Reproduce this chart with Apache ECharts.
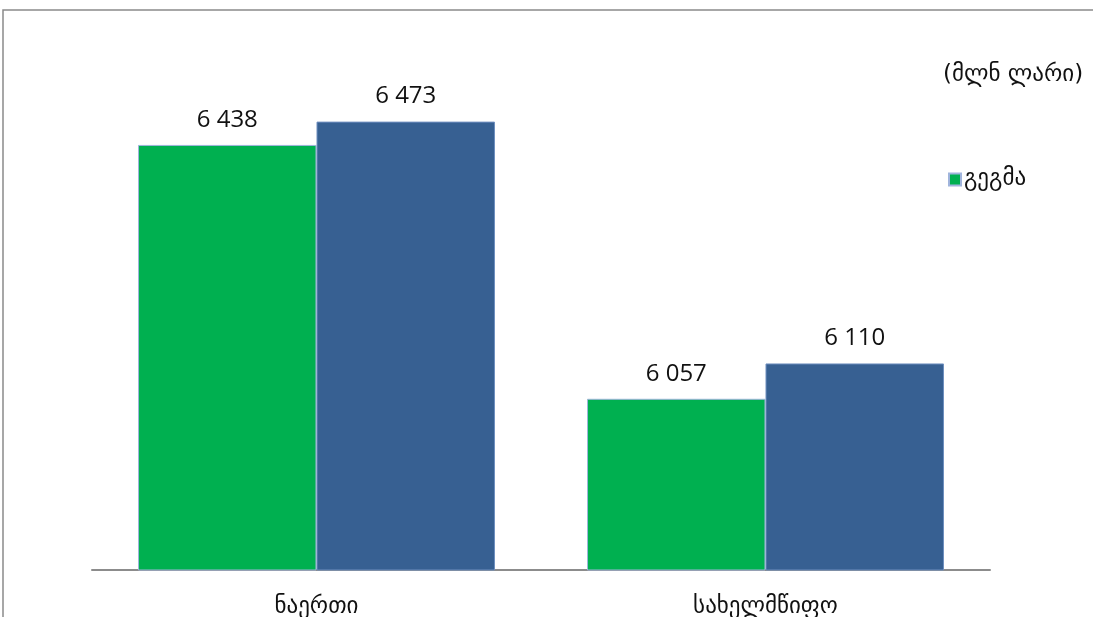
<!DOCTYPE html>
<html><head><meta charset="utf-8">
<script src="https://cdn.jsdelivr.net/npm/echarts@6/dist/echarts.min.js"></script>
<style>html,body{margin:0;padding:0;background:#fff}#c{width:1093px;height:617px}</style>
</head><body><div id="c"></div>
<script>
const categories = ['ნაერთი', 'სახელმწიფო'];
const planValues = [6438, 6057];
const actualValues = [6473, 6110];
const seriesNames = ['გეგმა', 'შესრულება'];
const unitLabel = '(მლნ ლარი)';

const fmt = v => String(v).replace(/\B(?=(\d{3})+(?!\d))/g, ' ');
const font = "'Open Sans', 'DejaVu Sans', sans-serif";

const chart = echarts.init(document.getElementById('c'));
chart.setOption({
  animation: false,
  backgroundColor: '#fff',
  graphic: [
    {type: 'rect', shape: {x: 3, y: 10, width: 1200, height: 700}, style: {fill: 'none', stroke: '#8a8a8a', lineWidth: 1.5}, silent: true},
    {type: 'text', left: 943, top: 64, style: {text: unitLabel, font: "23px 'DejaVu Sans', sans-serif", fill: '#111'}}
  ],
  legend: {
    data: [seriesNames[0]],
    left: 943, top: 163, orient: 'vertical',
    itemWidth: 12, itemHeight: 12, itemGap: 4,
    icon: 'rect',
    textStyle: {fontSize: 23, fontFamily: "'DejaVu Sans', sans-serif", color: '#111', padding: [0, 0, 0, -2]}
  },
  grid: {left: 92, right: 103, top: 37, bottom: 47, containLabel: false, outerBoundsMode: 'none'},
  xAxis: {
    type: 'category', data: categories,
    axisLine: {show: true, lineStyle: {color: '#8c8c8c', width: 2}},
    axisTick: {show: false},
    axisLabel: {fontSize: 23, margin: 26, color: '#111', fontFamily: "'DejaVu Sans', sans-serif"}
  },
  yAxis: {
    type: 'value', min: 5800, max: 6600, show: false,
    splitLine: {show: false}
  },
  series: [
    {
      name: seriesNames[0], type: 'bar', data: planValues,
      barGap: '0%', barCategoryGap: '20.5%',
      itemStyle: {color: '#00b050', borderColor: '#a0b4dc', borderWidth: 1},
      label: {show: true, position: 'top', distance: 13, formatter: p => fmt(p.value), fontSize: 24, color: '#111', fontFamily: font}
    },
    {
      name: seriesNames[1], type: 'bar', data: actualValues,
      itemStyle: {color: '#376092', borderColor: '#6f8fbf', borderWidth: 1},
      label: {show: true, position: 'top', distance: 13, formatter: p => fmt(p.value), fontSize: 24, color: '#111', fontFamily: font}
    }
  ]
});
</script></body></html>
